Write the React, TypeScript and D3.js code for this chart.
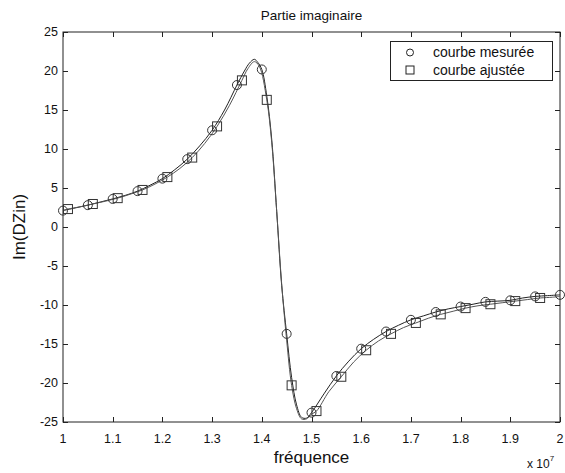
import React, { useEffect, useRef } from 'react';
import * as d3 from 'd3';

// frequency in units of 1e7 Hz
const measuredFreq = [
  1.0, 1.025, 1.05, 1.075, 1.1, 1.125, 1.15, 1.175, 1.2, 1.225, 1.25, 1.275, 1.3, 1.325, 1.35,
  1.365, 1.375, 1.385, 1.392, 1.4, 1.41, 1.42, 1.43, 1.44, 1.45, 1.46, 1.47, 1.48, 1.49, 1.5,
  1.525, 1.55, 1.575, 1.6, 1.625, 1.65, 1.675, 1.7, 1.725, 1.75, 1.775, 1.8, 1.825, 1.85, 1.875,
  1.9, 1.925, 1.95, 1.975, 2.0,
];
const measuredIm = [
  2.1, 2.45, 2.8, 3.2, 3.6, 4.05, 4.6, 5.35, 6.2, 7.35, 8.7, 10.4, 12.4, 15.0, 18.2,
  20.0, 21.0, 21.5, 21.1, 20.2, 16.8, 11.2, 2.0, -7.5, -13.7, -19.3, -22.8, -24.4, -24.5, -23.8,
  -21.4, -19.1, -17.2, -15.6, -14.4, -13.4, -12.6, -11.9, -11.4, -10.9, -10.5, -10.2, -9.9, -9.6, -9.5,
  -9.4, -9.1, -8.9, -8.8, -8.7,
];
const measuredMarkFreq = [
  1.0, 1.05, 1.1, 1.15, 1.2, 1.25, 1.3, 1.35, 1.4, 1.45, 1.5, 1.55, 1.6, 1.65, 1.7, 1.75, 1.8,
  1.85, 1.9, 1.95, 2.0,
];

const fittedFreq = [
  1.0, 1.01, 1.035, 1.06, 1.085, 1.11, 1.135, 1.16, 1.185, 1.21, 1.235, 1.26, 1.285, 1.31, 1.335,
  1.36, 1.372, 1.385, 1.395, 1.41, 1.42, 1.43, 1.44, 1.45, 1.46, 1.47, 1.48, 1.49, 1.5, 1.51,
  1.535, 1.56, 1.585, 1.61, 1.635, 1.66, 1.685, 1.71, 1.735, 1.76, 1.785, 1.81, 1.835, 1.86, 1.885,
  1.91, 1.935, 1.96, 1.985, 2.0,
];
const fittedIm = [
  2.15, 2.3, 2.6, 2.95, 3.3, 3.7, 4.2, 4.75, 5.5, 6.4, 7.5, 8.9, 10.7, 12.9, 15.6,
  18.8, 20.3, 21.2, 20.6, 16.3, 10.8, 2.0, -7.3, -14.5, -20.3, -23.3, -24.6, -24.6, -24.0, -23.6,
  -21.1, -19.2, -17.3, -15.8, -14.6, -13.7, -12.9, -12.3, -11.7, -11.2, -10.8, -10.4, -10.1, -9.9, -9.7,
  -9.5, -9.3, -9.1, -9.0, -8.9,
];
const fittedMarkFreq = [
  1.01, 1.06, 1.11, 1.16, 1.21, 1.26, 1.31, 1.36, 1.41, 1.46, 1.51, 1.56, 1.61, 1.66, 1.71, 1.76,
  1.81, 1.86, 1.91, 1.96,
];

const xTicks = [1, 1.1, 1.2, 1.3, 1.4, 1.5, 1.6, 1.7, 1.8, 1.9, 2];
const yTicks = [-25, -20, -15, -10, -5, 0, 5, 10, 15, 20, 25];
const legendLabels = ['courbe mesurée', 'courbe ajustée'];

const FONT = '"Liberation Sans", Arial, Helvetica, sans-serif';

export default function App() {
  const svgRef = useRef<SVGSVGElement>(null);
  const width = 565;
  const height = 473;

  useEffect(() => {
    document.body.style.margin = '0';
    if (!svgRef.current) return;
    const svg = d3.select(svgRef.current);
    svg.selectAll('*').remove();

    const margin = { top: 32, right: 5, bottom: 51, left: 63 };
    const innerW = width - margin.left - margin.right;
    const innerH = height - margin.top - margin.bottom;

    const x = d3.scaleLinear().domain([1, 2]).range([0, innerW]);
    const y = d3.scaleLinear().domain([-25, 25]).range([innerH, 0]);

    svg.append('rect').attr('width', width).attr('height', height).attr('fill', '#fff');

    const g = svg.append('g').attr('transform', `translate(${margin.left},${margin.top})`);

    // axis box
    g.append('rect')
      .attr('width', innerW)
      .attr('height', innerH)
      .attr('fill', 'none')
      .attr('stroke', '#222')
      .attr('stroke-width', 1);

    const tickLen = 5;
    const tickColor = '#222';
    xTicks.forEach((t) => {
      const px = Math.round(x(t)) + 0.5;
      g.append('line').attr('x1', px).attr('x2', px).attr('y1', innerH).attr('y2', innerH - tickLen).attr('stroke', tickColor);
      g.append('line').attr('x1', px).attr('x2', px).attr('y1', 0).attr('y2', tickLen).attr('stroke', tickColor);
      g.append('text')
        .attr('x', x(t))
        .attr('y', innerH + 21)
        .attr('text-anchor', 'middle')
        .attr('font-family', FONT)
        .attr('font-size', 12.5)
        .attr('fill', '#111')
        .text(String(t));
    });
    yTicks.forEach((t) => {
      const py = Math.round(y(t)) + 0.5;
      g.append('line').attr('x1', 0).attr('x2', tickLen).attr('y1', py).attr('y2', py).attr('stroke', tickColor);
      g.append('line').attr('x1', innerW).attr('x2', innerW - tickLen).attr('y1', py).attr('y2', py).attr('stroke', tickColor);
      g.append('text')
        .attr('x', -5)
        .attr('y', y(t))
        .attr('dy', '0.35em')
        .attr('text-anchor', 'end')
        .attr('font-family', FONT)
        .attr('font-size', 12.5)
        .attr('fill', '#111')
        .text(String(t));
    });

    const line = d3.line<[number, number]>()
      .x((d) => x(d[0]))
      .y((d) => y(d[1]))
      .curve(d3.curveCatmullRom.alpha(0.5));

    const measured: [number, number][] = measuredFreq.map((f, i) => [f, measuredIm[i]]);
    const fitted: [number, number][] = fittedFreq.map((f, i) => [f, fittedIm[i]]);

    g.append('path').datum(measured).attr('d', line).attr('fill', 'none').attr('stroke', '#222').attr('stroke-width', 1);
    g.append('path').datum(fitted).attr('d', line).attr('fill', 'none').attr('stroke', '#555').attr('stroke-width', 1);

    const measuredMarks = measured.filter((d) => measuredMarkFreq.some((m) => Math.abs(m - d[0]) < 1e-6));
    const fittedMarks = fitted.filter((d) => fittedMarkFreq.some((m) => Math.abs(m - d[0]) < 1e-6));

    g.selectAll('.mark-m')
      .data(measuredMarks)
      .enter().append('circle')
      .attr('class', 'mark-m')
      .attr('cx', (d) => x(d[0]))
      .attr('cy', (d) => y(d[1]))
      .attr('r', 4.5)
      .attr('fill', 'none')
      .attr('stroke', '#333')
      .attr('stroke-width', 1);

    const sq = 9;
    g.selectAll('.mark-f')
      .data(fittedMarks)
      .enter().append('rect')
      .attr('class', 'mark-f')
      .attr('x', (d) => x(d[0]) - sq / 2)
      .attr('y', (d) => y(d[1]) - sq / 2)
      .attr('width', sq)
      .attr('height', sq)
      .attr('fill', 'none')
      .attr('stroke', '#333')
      .attr('stroke-width', 1);

    // legend
    const lg = g.append('g').attr('transform', `translate(${390 - margin.left},${41 - margin.top})`);
    lg.append('rect')
      .attr('x', 0.5)
      .attr('y', 0.5)
      .attr('width', 162)
      .attr('height', 39)
      .attr('fill', '#fff')
      .attr('stroke', '#222');
    lg.append('circle').attr('cx', 20).attr('cy', 11.5).attr('r', 3.5).attr('fill', 'none').attr('stroke', '#222');
    lg.append('rect').attr('x', 16).attr('y', 25).attr('width', 8).attr('height', 8).attr('fill', 'none').attr('stroke', '#222');
    legendLabels.forEach((label, i) => {
      lg.append('text')
        .attr('x', 43)
        .attr('y', 11 + i * 18)
        .attr('dy', '0.35em')
        .attr('font-family', FONT)
        .attr('font-size', 14)
        .attr('fill', '#111')
        .text(label);
    });

    // titles
    svg.append('text')
      .attr('x', margin.left + innerW / 2)
      .attr('y', 20)
      .attr('text-anchor', 'middle')
      .attr('font-family', FONT)
      .attr('font-size', 13.5)
      .attr('fill', '#111')
      .text('Partie imaginaire');

    svg.append('text')
      .attr('x', margin.left + innerW / 2)
      .attr('y', 463)
      .attr('text-anchor', 'middle')
      .attr('font-family', FONT)
      .attr('font-size', 17)
      .attr('fill', '#111')
      .text('fréquence');

    svg.append('text')
      .attr('transform', `translate(25,${margin.top + innerH / 2}) rotate(-90)`)
      .attr('text-anchor', 'middle')
      .attr('font-family', FONT)
      .attr('font-size', 17)
      .attr('fill', '#111')
      .text('Im(DZin)');

    const exp = svg.append('text')
      .attr('x', 527)
      .attr('y', 468)
      .attr('font-family', FONT)
      .attr('font-size', 12)
      .attr('fill', '#111');
    exp.append('tspan').text('x 10');
    exp.append('tspan').attr('dy', -7).attr('font-size', 8).text('7');
  }, []);

  return <svg ref={svgRef} width={width} height={height} style={{ display: 'block' }} />;
}
